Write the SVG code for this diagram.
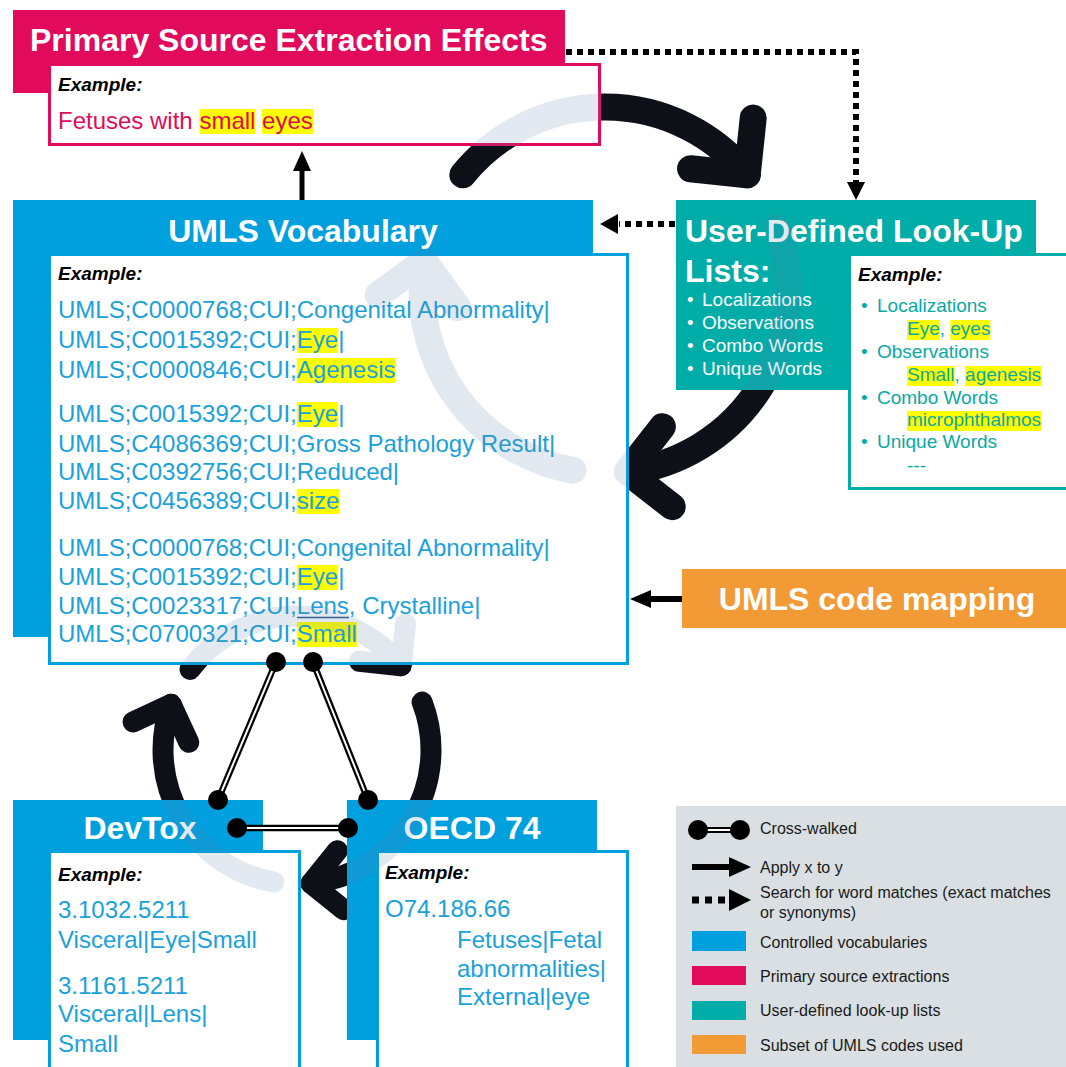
<svg xmlns="http://www.w3.org/2000/svg" width="1066" height="1067" viewBox="0 0 1066 1067">
  <defs>
    <style>
      text { font-family: "Liberation Sans", Arial, sans-serif; }
      .ttl { font-size: 32px; font-weight: bold; fill: #ffffff; }
      .ex { font-size: 19px; font-weight: bold; font-style: italic; fill: #000000; }
      .voc { font-size: 24px; fill: #1aa1dc; }
      .src { font-size: 24px; fill: #e20a5b; }
      .lw { font-size: 19px; fill: #ffffff; }
      .lt { font-size: 19px; fill: #09aaa4; }
      .lg { font-size: 16px; fill: #1a1a1a; }
      .hl { fill: #ffff00; }
      .cyc path { fill: none; stroke-linecap: round; stroke-linejoin: round; }
      .dotted { fill: none; stroke: #000; stroke-width: 6; stroke-dasharray: 6 5; }
      .solid { fill: none; stroke: #000; stroke-width: 6; }
      .cw-out { stroke: #000; stroke-width: 6.5; }
      .cw-in { stroke: #fff; stroke-width: 2; }
    </style>

    <!-- three-arrow cycle icons (stroke colour is set where they are used) -->
    <g id="cycle-big" class="cyc" stroke-width="27">
      <path d="M462.8,174.8 A183,183 0 0 1 747.2,174.8"/>
      <path d="M690.5,168.8 L747.2,174.8 L753.2,118.1"/>
      <path d="M777.0,227.4 A183,183 0 0 1 627.3,471.6"/>
      <path d="M662.4,426.7 L627.3,471.6 L672.2,506.7"/>
      <path d="M573.2,470.2 A183,183 0 0 1 424.3,261.4"/>
      <path d="M457.8,307.5 L424.3,261.4 L378.2,294.9"/>
    </g>
    <g id="cycle-small" class="cyc" stroke-width="21">
      <path d="M190.0,669.4 A134,134 0 0 1 401.1,665.7"/>
      <path d="M359.3,661.3 L401.1,665.7 L405.5,623.9"/>
      <path d="M422.1,702.0 A134,134 0 0 1 311.0,883.3"/>
      <path d="M337.4,850.7 L311.0,883.3 L343.6,909.7"/>
      <path d="M273.7,882.0 A134,134 0 0 1 171.1,704.2"/>
      <path d="M188.8,742.3 L171.1,704.2 L133.0,721.9"/>
    </g>

    <!-- areas covered by the boxes, where the icons show through faintly -->
    <clipPath id="box-areas">
      <rect x="13" y="10" width="552" height="83"/>
      <rect x="48" y="63" width="553" height="83"/>
      <rect x="13" y="200" width="580" height="437"/>
      <rect x="48" y="253" width="581" height="412"/>
      <rect x="676" y="200" width="360" height="190"/>
      <rect x="848" y="253" width="218" height="237"/>
      <rect x="13" y="800" width="250" height="240"/>
      <rect x="48" y="850" width="253" height="217"/>
      <rect x="347" y="800" width="250" height="240"/>
      <rect x="376" y="850" width="253" height="217"/>
    </clipPath>
  </defs>

  <rect width="1066" height="1067" fill="#ffffff"/>

  <!-- cycle icons behind the boxes -->
  <g id="cycle-icons">
    <use href="#cycle-big" stroke="#0d1117"/>
    <use href="#cycle-small" stroke="#0d1117"/>
  </g>

  <!-- Primary source extraction -->
  <g id="primary-source">
    <rect x="13" y="10" width="552" height="83" fill="#e20a5b"/>
    <text class="ttl" x="30" y="51">Primary Source Extraction Effects</text>
    <rect x="49.5" y="64.5" width="550" height="80" fill="#ffffff" stroke="#e20a5b" stroke-width="3"/>
    <text class="ex" x="58" y="91">Example:</text>
    <rect class="hl" x="199.5" y="109" width="56" height="25"/>
    <rect class="hl" x="262" y="109" width="51" height="25"/>
    <text class="src" x="58" y="129">Fetuses with small eyes</text>
  </g>

  <!-- UMLS vocabulary -->
  <g id="umls-vocabulary">
    <rect x="13" y="200" width="580" height="437" fill="#00a0df"/>
    <text class="ttl" x="303" y="242" text-anchor="middle">UMLS Vocabulary</text>
    <rect x="49.5" y="254.5" width="578" height="409" fill="#ffffff" stroke="#00a0df" stroke-width="3"/>
    <text class="ex" x="58" y="280">Example:</text>
    <rect class="hl" x="296.8" y="328" width="41.4" height="25"/>
    <rect class="hl" x="296.8" y="358" width="98.7" height="25"/>
    <rect class="hl" x="296.8" y="402" width="41.4" height="25"/>
    <rect class="hl" x="296.8" y="489" width="42.7" height="25"/>
    <rect class="hl" x="296.8" y="565" width="41.4" height="25"/>
    <rect class="hl" x="296.8" y="622" width="60" height="25"/>
    <text class="voc" x="58" y="318">UMLS;C0000768;CUI;Congenital Abnormality|</text>
    <text class="voc" x="58" y="348">UMLS;C0015392;CUI;Eye|</text>
    <text class="voc" x="58" y="378">UMLS;C0000846;CUI;Agenesis</text>
    <text class="voc" x="58" y="422">UMLS;C0015392;CUI;Eye|</text>
    <text class="voc" x="58" y="452">UMLS;C4086369;CUI;Gross Pathology Result|</text>
    <text class="voc" x="58" y="480">UMLS;C0392756;CUI;Reduced|</text>
    <text class="voc" x="58" y="509">UMLS;C0456389;CUI;size</text>
    <text class="voc" x="58" y="556">UMLS;C0000768;CUI;Congenital Abnormality|</text>
    <text class="voc" x="58" y="585">UMLS;C0015392;CUI;Eye|</text>
    <text class="voc" x="58" y="614">UMLS;C0023317;CUI;Lens, Crystalline|</text>
    <line x1="297" y1="617.5" x2="349" y2="617.5" stroke="#2b5c8a" stroke-width="1.5"/>
    <text class="voc" x="58" y="642">UMLS;C0700321;CUI;Small</text>
  </g>

  <!-- User-defined look-up lists -->
  <g id="user-defined-lists">
    <rect x="676" y="200" width="360" height="190" fill="#00ada8"/>
    <text class="ttl" x="685" y="242">User-Defined Look-Up</text>
    <text class="ttl" x="685" y="282">Lists:</text>
    <text class="lw" x="687" y="306">•</text><text class="lw" x="702" y="306">Localizations</text>
    <text class="lw" x="687" y="329">•</text><text class="lw" x="702" y="329">Observations</text>
    <text class="lw" x="687" y="352">•</text><text class="lw" x="702" y="352">Combo Words</text>
    <text class="lw" x="687" y="375">•</text><text class="lw" x="702" y="375">Unique Words</text>
    <rect x="849.5" y="254.5" width="220" height="234" fill="#ffffff" stroke="#00ada8" stroke-width="3"/>
    <text class="ex" x="858" y="281">Example:</text>
    <rect class="hl" x="907" y="320" width="32.7" height="20"/>
    <rect class="hl" x="950.3" y="320" width="40.1" height="20"/>
    <rect class="hl" x="907" y="366" width="47.5" height="20"/>
    <rect class="hl" x="965.1" y="366" width="76" height="20"/>
    <rect class="hl" x="907" y="411" width="134" height="20"/>
    <text class="lt" x="861" y="312">•</text><text class="lt" x="877" y="312">Localizations</text>
    <text class="lt" x="907" y="335">Eye, eyes</text>
    <text class="lt" x="861" y="358">•</text><text class="lt" x="877" y="358">Observations</text>
    <text class="lt" x="907" y="381">Small, agenesis</text>
    <text class="lt" x="861" y="404">•</text><text class="lt" x="877" y="404">Combo Words</text>
    <text class="lt" x="907" y="426">microphthalmos</text>
    <text class="lt" x="861" y="448">•</text><text class="lt" x="877" y="448">Unique Words</text>
    <text class="lt" x="907" y="472">---</text>
  </g>

  <!-- UMLS code mapping -->
  <g id="umls-code-mapping">
    <rect x="682" y="569" width="390" height="59" fill="#f29a36"/>
    <text class="ttl" x="877" y="610" text-anchor="middle">UMLS code mapping</text>
  </g>

  <!-- DevTox -->
  <g id="devtox">
    <rect x="13" y="800" width="250" height="240" fill="#00a0df"/>
    <text class="ttl" x="140" y="839" text-anchor="middle">DevTox</text>
    <rect x="49.5" y="851.5" width="250" height="220" fill="#ffffff" stroke="#00a0df" stroke-width="3"/>
    <text class="ex" x="58" y="881">Example:</text>
    <text class="voc" x="58" y="918">3.1032.5211</text>
    <text class="voc" x="58" y="948">Visceral|Eye|Small</text>
    <text class="voc" x="58" y="994">3.1161.5211</text>
    <text class="voc" x="58" y="1022">Visceral|Lens|</text>
    <text class="voc" x="58" y="1052">Small</text>
  </g>

  <!-- OECD 74 -->
  <g id="oecd-74">
    <rect x="347" y="800" width="250" height="240" fill="#00a0df"/>
    <text class="ttl" x="472" y="839" text-anchor="middle">OECD 74</text>
    <rect x="377.5" y="851.5" width="250" height="220" fill="#ffffff" stroke="#00a0df" stroke-width="3"/>
    <text class="ex" x="385" y="879">Example:</text>
    <text class="voc" x="385" y="917">O74.186.66</text>
    <text class="voc" x="457" y="948">Fetuses|Fetal</text>
    <text class="voc" x="457" y="977">abnormalities|</text>
    <text class="voc" x="457" y="1005">External|eye</text>
  </g>

  <!-- faint show-through of the cycle icons over the boxes -->
  <g id="cycle-show-through" clip-path="url(#box-areas)" opacity="0.17">
    <use href="#cycle-big" stroke="#5a7daa"/>
    <use href="#cycle-small" stroke="#5a7daa"/>
  </g>

  <!-- connectors -->
  <g id="connectors">
    <!-- UMLS vocabulary -> primary source -->
    <line x1="302" y1="200" x2="302" y2="170" stroke="#000" stroke-width="5"/>
    <polygon points="293,171 302,151 311,171" fill="#000"/>
    <!-- primary source -> look-up lists (word matches) -->
    <path class="dotted" d="M566,52 H856 V183"/>
    <polygon points="847,182 865,182 856,200" fill="#000"/>
    <!-- look-up lists -> UMLS vocabulary (word matches) -->
    <path class="dotted" d="M675,224 H619"/>
    <polygon points="618,214 618,234 600,224" fill="#000"/>
    <!-- code mapping -> UMLS vocabulary -->
    <path class="solid" d="M682,599 H650"/>
    <polygon points="651,590 651,608 630,599" fill="#000"/>
    <!-- cross-walks -->
    <line class="cw-out" x1="276" y1="662" x2="218" y2="800"/>
    <line class="cw-in" x1="276" y1="662" x2="218" y2="800"/>
    <line class="cw-out" x1="313" y1="662" x2="368" y2="800"/>
    <line class="cw-in" x1="313" y1="662" x2="368" y2="800"/>
    <line class="cw-out" x1="237" y1="828" x2="348" y2="828"/>
    <line class="cw-in" x1="237" y1="828" x2="348" y2="828"/>
    <circle cx="276" cy="662" r="10" fill="#000"/>
    <circle cx="313" cy="662" r="10" fill="#000"/>
    <circle cx="218" cy="800" r="10" fill="#000"/>
    <circle cx="368" cy="800" r="10" fill="#000"/>
    <circle cx="237" cy="828" r="10" fill="#000"/>
    <circle cx="348" cy="828" r="10" fill="#000"/>
  </g>

  <!-- legend -->
  <g id="legend">
    <rect x="676" y="806" width="395" height="265" fill="#d9dfe3"/>
    <line x1="698" y1="830" x2="740" y2="830" stroke="#000" stroke-width="6"/>
    <line x1="698" y1="830" x2="740" y2="830" stroke="#fff" stroke-width="2"/>
    <circle cx="698" cy="830" r="10" fill="#000"/>
    <circle cx="740" cy="830" r="10" fill="#000"/>
    <text class="lg" x="760" y="834">Cross-walked</text>
    <line x1="692" y1="867" x2="731" y2="867" stroke="#000" stroke-width="6"/>
    <polygon points="729,857 751,867 729,877" fill="#000"/>
    <text class="lg" x="760" y="873">Apply x to y</text>
    <line x1="692" y1="900" x2="728" y2="900" stroke="#000" stroke-width="7" stroke-dasharray="7 6"/>
    <polygon points="729,889 751,900 729,911" fill="#000"/>
    <text class="lg" x="760" y="898">Search for word matches (exact matches</text>
    <text class="lg" x="760" y="918">or synonyms)</text>
    <rect x="692" y="931" width="54" height="20" fill="#00a0df"/>
    <text class="lg" x="760" y="948">Controlled vocabularies</text>
    <rect x="692" y="966" width="54" height="19" fill="#e20a5b"/>
    <text class="lg" x="760" y="982">Primary source extractions</text>
    <rect x="692" y="1001" width="54" height="19" fill="#00ada8"/>
    <text class="lg" x="760" y="1016">User-defined look-up lists</text>
    <rect x="692" y="1035" width="54" height="19" fill="#f29a36"/>
    <text class="lg" x="760" y="1051">Subset of UMLS codes used</text>
  </g>
</svg>
